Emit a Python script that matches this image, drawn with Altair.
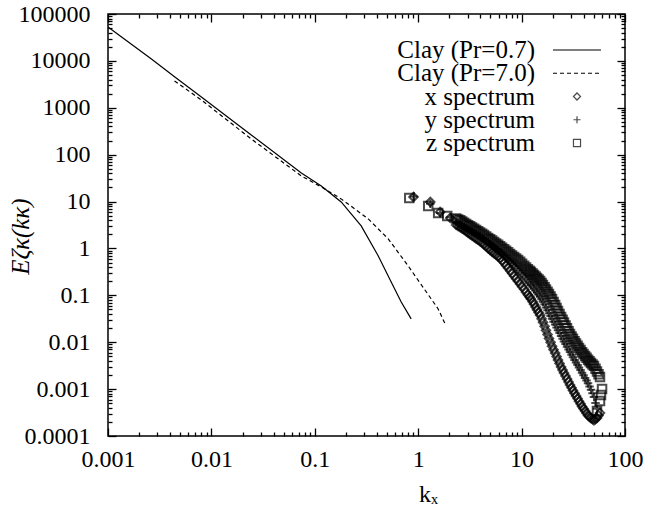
import altair as alt
import pandas as pd

# ---------------- data ----------------
clay07_k = [0.001, 0.00263, 0.0044, 0.008, 0.0243, 0.0741, 0.1156, 0.180, 0.281, 0.411, 0.548, 0.685, 0.855]
clay07_E = [52800, 11000, 4600, 1700, 263, 40.7, 21.5, 9.8, 3.02, 0.692, 0.193, 0.0723, 0.0314]

clay70_k = [0.0044, 0.008, 0.0243, 0.0741, 0.1156, 0.18, 0.329, 0.513, 0.8, 1.143, 1.56, 1.82]
clay70_E = [3730, 1466, 216, 35.2, 20.5, 11.4, 4.26, 1.6, 0.424, 0.137, 0.0513, 0.0246]

# x spectrum (diamonds)
x_k = [0.9, 1.31, 1.63, 2.04,
       2.33, 2.55, 2.78, 3.04, 3.32, 3.63, 3.97, 4.34, 4.75, 5.19, 5.67, 6.2, 6.78, 7.41, 8.09, 8.85, 9.68, 10.6, 11.5,
       12.3, 13.2, 14.1, 15.1, 16.1, 17.2, 18.4, 19.7, 21.1, 22.5, 24.1, 25.7, 27.5, 29.4, 31.4, 33.6, 35.9, 38.4,
       41.1, 43.9, 46.9, 50.1, 53.6, 57.3,
       2.435, 2.662, 2.91, 3.18, 3.475, 3.80, 4.155, 4.54, 4.96, 5.425, 5.93, 6.48, 7.085, 7.745, 8.465, 9.25, 10.11,
       11.05, 11.95, 12.78, 13.66, 14.6, 15.61, 16.68, 17.83, 19.06, 20.38, 21.79, 23.29, 24.9, 26.6, 28.46, 30.41,
       32.51, 34.76, 37.15, 39.72, 42.46, 45.39, 48.53, 51.88, 55.46]
x_E = [12.5, 9.8, 6.0, 4.47,
       3.17, 2.83, 2.5, 2.16, 1.87, 1.63, 1.42, 1.21, 1.01, 0.851, 0.727, 0.621, 0.493, 0.382, 0.294, 0.227, 0.175,
       0.134, 0.1025, 0.0838, 0.0643, 0.0493, 0.0378, 0.0266, 0.0179, 0.012, 0.00822, 0.00586, 0.00417, 0.00297,
       0.00221, 0.00165, 0.00123, 0.000933, 0.000716, 0.000549, 0.000428, 0.000343, 0.000275, 0.00024, 0.000217,
       0.000243, 0.000311,
       2.995, 2.66, 2.324, 2.01, 1.746, 1.521, 1.311, 1.105, 0.927, 0.787, 0.672, 0.553, 0.434, 0.335, 0.258, 0.199,
       0.153, 0.117, 0.0927, 0.0734, 0.0563, 0.0432, 0.0317, 0.0218, 0.01466, 0.00993, 0.00694, 0.00494, 0.00352,
       0.00256, 0.00191, 0.001425, 0.001071, 0.000817, 0.000627, 0.000485, 0.000383, 0.000307, 0.000257, 0.000228,
       0.00023, 0.000275]

# y spectrum (plus)
y_k = [0.91, 1.31, 1.63, 2.04,
       2.33, 2.55, 2.78, 3.04, 3.32, 3.63, 3.97, 4.34, 4.75, 5.19, 5.67, 6.2, 6.78, 7.41, 8.09, 8.85, 9.68, 10.6, 11.5,
       12.3, 13.2, 14.1, 15.1, 16.1, 17.2, 18.4, 19.7, 21.1, 22.5, 24.1, 25.7, 27.5, 29.4, 31.4, 33.6, 35.9, 38.4,
       41.1, 43.9, 46.9, 50.1, 53.6,
       2.435, 2.662, 2.91, 3.18, 3.475, 3.80, 4.155, 4.54, 4.96, 5.425, 5.93, 6.48, 7.085, 7.745, 8.465, 9.25, 10.11,
       11.05, 11.95, 12.78, 13.66, 14.6, 15.61, 16.68, 17.83, 19.06, 20.38, 21.79, 23.29, 24.9, 26.6, 28.46, 30.41,
       32.51, 34.76, 37.15, 39.72, 42.46, 45.39, 48.53, 51.88]
y_E = [12.8, 9.0, 5.7, 4.6,
       3.67, 3.26, 2.82, 2.58, 2.29, 2.04, 1.81, 1.56, 1.34, 1.14, 0.976, 0.834, 0.692, 0.569, 0.467, 0.38, 0.305,
       0.2455, 0.197, 0.167, 0.138, 0.1136, 0.0938, 0.073, 0.0552, 0.0417, 0.0315, 0.0238, 0.018, 0.0136, 0.0104,
       0.00802, 0.00615, 0.00476, 0.00371, 0.00289, 0.00224, 0.00173, 0.00134, 0.00097, 0.000682, 0.000379,
       3.459, 3.032, 2.697, 2.431, 2.161, 1.922, 1.68, 1.446, 1.236, 1.055, 0.902, 0.76, 0.627, 0.515, 0.421, 0.34,
       0.2736, 0.2199, 0.1814, 0.1518, 0.1252, 0.1032, 0.08275, 0.06348, 0.04798, 0.03624, 0.02738, 0.0207, 0.01565,
       0.01189, 0.00913, 0.00702, 0.00541, 0.0042, 0.003274, 0.002544, 0.001969, 0.001523, 0.00114, 0.000813,
       0.000508]

# z spectrum (squares)
z_k = [0.82, 1.25, 1.56, 1.91,
       2.33, 2.55, 2.78, 3.04, 3.32, 3.63, 3.97, 4.34, 4.75, 5.19, 5.67, 6.2, 6.78, 7.41, 8.09, 8.85, 9.68, 10.6, 11.5,
       12.3, 13.2, 14.1, 15.1, 16.1, 17.2, 18.4, 19.7, 21.1, 22.5, 24.1, 25.7, 27.5, 29.4, 31.4, 33.6, 35.9, 38.4,
       41.1, 43.9, 46.9, 50.1, 53.6, 57.3, 60.0, 58.6, 57.3, 53.6,
       2.435, 2.662, 2.91, 3.18, 3.475, 3.80, 4.155, 4.54, 4.96, 5.425, 5.93, 6.48, 7.085, 7.745, 8.465, 9.25, 10.11,
       11.05, 11.95, 12.78, 13.66, 14.6, 15.61, 16.68, 17.83, 19.06, 20.38, 21.79, 23.29, 24.9, 26.6, 28.46, 30.41,
       32.51, 34.76, 37.15, 39.72, 42.46, 45.39, 48.53, 51.88, 55.46]
z_E = [11.9, 8.06, 5.71, 4.93,
       4.36, 3.97, 3.53, 3.14, 2.79, 2.48, 2.2, 1.93, 1.68, 1.47, 1.28, 1.11, 0.962, 0.826, 0.709, 0.612, 0.523,
       0.426, 0.358, 0.315, 0.272, 0.235, 0.203, 0.167, 0.134, 0.107, 0.0838, 0.0624, 0.0465, 0.0346, 0.0262,
       0.0198, 0.015, 0.0118, 0.00942, 0.00756, 0.00614, 0.0051, 0.00425, 0.00362, 0.00313, 0.00238, 0.00182,
       0.00101, 0.000752, 0.00056, 0.000343,
       4.16, 3.743, 3.329, 2.96, 2.63, 2.336, 2.061, 1.801, 1.571, 1.372, 1.192, 1.033, 0.891, 0.765, 0.659, 0.566,
       0.472, 0.3905, 0.3358, 0.2927, 0.2528, 0.2184, 0.1841, 0.1496, 0.1197, 0.0947, 0.0723, 0.05387, 0.04011,
       0.03011, 0.02278, 0.01723, 0.0133, 0.01054, 0.00844, 0.00681, 0.0056, 0.004656, 0.003922, 0.003366, 0.002729,
       0.002081]

legend_labels = ["Clay (Pr=0.7)", "Clay (Pr=7.0)", "x spectrum", "y spectrum", "z spectrum"]

x_major = [0.001, 0.01, 0.1, 1, 10, 100]
y_major = [0.0001, 0.001, 0.01, 0.1, 1, 10, 100, 1000, 10000, 100000]
x_minor = [m * 10.0 ** e for e in range(-3, 2) for m in range(2, 10)]
y_minor = [m * 10.0 ** e for e in range(-4, 5) for m in range(2, 10)]

# ---------------- style ----------------
PW, PH = 517, 422
SERIF = "Liberation Serif"
PLUS = "M-1,0L1,0M0,-1L0,1"
XS = alt.Scale(type="log", domain=[0.001, 100], nice=False)
YS = alt.Scale(type="log", domain=[0.0001, 100000], nice=False)


def tick_axis(orient, values, size, **kw):
    return alt.Axis(orient=orient, values=values, tickSize=size, offset=-size, domain=False,
                    grid=False, tickWidth=1.3, tickColor="black", labelFlush=False, **kw)


def df(k, e):
    return pd.DataFrame({"k": k, "E": e})


solid = alt.Chart(df(clay07_k, clay07_E)).mark_line(color="black", strokeWidth=1.2, clip=True).encode(
    x=alt.X("k:Q", scale=XS, axis=tick_axis(
        "bottom", x_major, 8, labels=True, format="~g", labelPadding=11,
        labelFont=SERIF, labelFontSize=24, labelColor="black",
        title="kₓ", titleFont=SERIF, titleFontSize=24, titleFontWeight="normal", titleColor="black",
        titleX=320, titleY=66, titleAlign="center", titleBaseline="middle")),
    y=alt.Y("E:Q", scale=YS, axis=tick_axis(
        "left", y_major, 8, labels=True, format="~g", labelPadding=18,
        labelFont=SERIF, labelFontSize=24, labelColor="black",
        title="Eζκ(kκ)", titleFont=SERIF, titleFontSize=25, titleFontStyle="italic",
        titleFontWeight="normal", titleColor="black",
        titleX=-96, titleY=222, titleAngle=270, titleAlign="center", titleBaseline="middle")),
)

dashed = alt.Chart(df(clay70_k, clay70_E)).mark_line(color="black", strokeWidth=1.2, strokeDash=[4, 3], clip=True).encode(
    x=alt.X("k:Q", scale=XS, axis=tick_axis("bottom", x_minor, 4, labels=False, title=None)),
    y=alt.Y("E:Q", scale=YS, axis=tick_axis("left", y_minor, 4, labels=False, title=None)),
)

pt = dict(filled=False, color="black", strokeWidth=2.0, size=72, clip=True)

xs = alt.Chart(df(x_k, x_E)).mark_point(shape="diamond", **pt).encode(
    x=alt.X("k:Q", scale=XS, axis=tick_axis("top", x_major, 8, labels=False, title=None)),
    y=alt.Y("E:Q", scale=YS, axis=tick_axis("right", y_major, 8, labels=False, title=None)),
)
ys = alt.Chart(df(y_k, y_E)).mark_point(shape=PLUS, **pt).encode(
    x=alt.X("k:Q", scale=XS, axis=tick_axis("top", x_minor, 4, labels=False, title=None)),
    y=alt.Y("E:Q", scale=YS, axis=tick_axis("right", y_minor, 4, labels=False, title=None)),
)
zs = alt.Chart(df(z_k, z_E)).mark_point(shape="square", **pt).encode(
    x=alt.X("k:Q", scale=XS, axis=None),
    y=alt.Y("E:Q", scale=YS, axis=None),
)

# ---------------- legend (built from the label list) ----------------
leg_df = pd.DataFrame({"label": legend_labels})
ROWS = alt.Scale(type="point", domain=legend_labels, range=[36, 129], padding=0)
ly = alt.Y("label:N", scale=ROWS, axis=None)

leg_text = alt.Chart(leg_df).mark_text(align="right", baseline="middle", font=SERIF, fontSize=25,
                                       color="black").encode(
    x=alt.value(427), y=ly, text="label:N")

leg_lines = alt.Chart(leg_df).transform_filter(
    alt.FieldOneOfPredicate(field="label", oneOf=legend_labels[:2])
).mark_rule(color="black", strokeWidth=1.2).encode(
    x=alt.value(445), x2=alt.value(493), y=ly,
    strokeDash=alt.StrokeDash("label:N", scale=alt.Scale(domain=legend_labels[:2], range=[[1, 0], [4, 3]]),
                              legend=None))

leg_pts = alt.Chart(leg_df).transform_filter(
    alt.FieldOneOfPredicate(field="label", oneOf=legend_labels[2:])
).mark_point(filled=False, color="black", strokeWidth=1.2, size=50).encode(
    x=alt.value(469), y=ly,
    shape=alt.Shape("label:N", scale=alt.Scale(domain=legend_labels[2:], range=["diamond", PLUS, "square"]),
                    legend=None))

chart = alt.layer(solid, dashed, xs, ys, zs, leg_text, leg_lines, leg_pts).resolve_scale(
    y="independent"
).resolve_axis(
    x="independent", y="independent"
).properties(
    width=PW, height=PH,
    autosize=alt.AutoSizeParams(type="none"),
    padding={"left": 108, "top": 14, "right": 37, "bottom": 72},
    background="white",
).configure_view(stroke="black", strokeWidth=1.5)

chart.save("out.html", embed_options={"renderer": "svg", "actions": False})
